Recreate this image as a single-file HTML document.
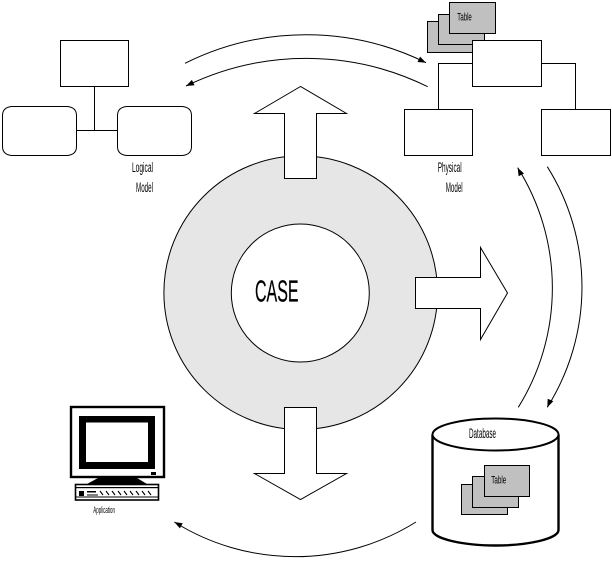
<!DOCTYPE html>
<html><head><meta charset="utf-8"><style>
html,body{margin:0;padding:0;background:#fff}
svg{display:block}
text{font-family:"Liberation Sans",sans-serif;fill:#000}
</style></head><body>
<svg width="612" height="570" viewBox="0 0 612 570" xmlns="http://www.w3.org/2000/svg">
<rect width="612" height="570" fill="#fff"/>
<g fill="none" stroke="#000" stroke-width="1">
<path d="M185 63.3A271 271 0 0 1 426 62.7"/>
<path d="M427.7 86.7A275 275 0 0 0 186 86"/>
<path d="M518.3 407.3A226 226 0 0 0 517.7 167.7"/>
<path d="M547.3 166.7A226 226 0 0 1 547.3 407.3"/>
<path d="M416 522A228 228 0 0 1 174.3 522"/>
</g>
<g fill="#000">
<polygon points="426,62.7 417.5,62 420.1,56.6"/>
<polygon points="186,86 194.5,85.3 191.9,79.9"/>
<polygon points="517.7,167.7 524,173.5 518.6,176.2"/>
<polygon points="547.3,407.3 553.3,401.2 547.7,398.8"/>
<polygon points="174.3,522 182.7,523.2 179.9,528.4"/>
</g>
<circle cx="300.7" cy="292.7" r="136.8" fill="#e6e6e6" stroke="#000" stroke-width="1"/>
<circle cx="300.3" cy="293" r="69" fill="#fff" stroke="#000" stroke-width="1"/>
<g fill="#fff" stroke="#000" stroke-width="1">
<polygon points="300.5,86.5 254.5,113.5 284.5,113.5 284.5,178.5 316.5,178.5 316.5,113.5 346.5,113.5"/>
<polygon points="415.5,277.5 480.5,277.5 480.5,247.5 507.5,293 480.5,339.5 480.5,308.5 415.5,308.5"/>
<polygon points="284.5,407.5 316.5,407.5 316.5,473.5 346.5,473.5 300.5,499.5 254.5,473.5 284.5,473.5"/>
</g>
<text x="255" y="301.7" font-size="30.5" textLength="43.5" lengthAdjust="spacingAndGlyphs" stroke="#000" stroke-width="0.25">CASE</text>

<g fill="#fff" stroke="#000" stroke-width="1">
<path d="M94.5 86V130M76.5 130.5H117.5" fill="none"/>
<rect x="60.5" y="40.5" width="68" height="46"/>
<path d="M11.5 106.5H67.5Q76.5 107.5 76.5 115.5V146.5Q76.5 154.5 67.5 155.5H11.5Q2.5 154.5 2.5 146.5V115.5Q2.5 107.5 11.5 106.5Z"/>
<path d="M126.5 106.5H182.5Q191.5 107.5 191.5 115.5V146.5Q191.5 154.5 182.5 155.5H126.5Q117.5 154.5 117.5 146.5V115.5Q117.5 107.5 126.5 106.5Z"/>
</g>
<text x="132" y="172" font-size="13.5" textLength="21" lengthAdjust="spacingAndGlyphs">Logical</text>
<text x="136" y="192" font-size="13.5" textLength="17" lengthAdjust="spacingAndGlyphs">Model</text>

<g fill="#c0c0c0" stroke="#000" stroke-width="1">
<rect x="427.5" y="21.5" width="46" height="31"/>
<rect x="438.5" y="14.5" width="46" height="30"/>
<rect x="449.5" y="2.5" width="46" height="31"/>
</g>
<text x="457.3" y="20.5" font-size="11" textLength="14.5" lengthAdjust="spacingAndGlyphs">Table</text>
<g fill="#fff" stroke="#000" stroke-width="1">
<path d="M438.5 109V63.5H575.5V109" fill="none"/>
<rect x="472.5" y="40.5" width="69" height="46"/>
<rect x="404.5" y="109.5" width="68" height="46"/>
<rect x="541.5" y="109.5" width="69" height="46"/>
</g>
<text x="437.7" y="172" font-size="13.5" textLength="24" lengthAdjust="spacingAndGlyphs">Physical</text>
<text x="445.7" y="192" font-size="13.5" textLength="17" lengthAdjust="spacingAndGlyphs">Model</text>

<path d="M432.5 434.5V530C432.5 539 464 545.5 495.5 545.5S558.5 539 558.5 530V434.5" fill="#fff" stroke="#000" stroke-width="2.4"/>
<ellipse cx="495.5" cy="434.5" rx="63" ry="16" fill="#fff" stroke="#000" stroke-width="2"/>
<text x="469" y="438" font-size="14" textLength="27" lengthAdjust="spacingAndGlyphs">Database</text>
<g fill="#c0c0c0" stroke="#000" stroke-width="1">
<rect x="461.5" y="484.5" width="46" height="30"/>
<rect x="472.5" y="476.5" width="46" height="31"/>
<rect x="484.5" y="465.5" width="45" height="31"/>
</g>
<text x="491.3" y="483.5" font-size="11" textLength="15" lengthAdjust="spacingAndGlyphs">Table</text>

<rect x="71" y="407" width="93" height="70" fill="#fff" stroke="#000" stroke-width="2.4"/>
<rect x="79" y="416" width="76" height="53" fill="#000"/>
<rect x="86" y="422.5" width="62" height="39.5" fill="#fff"/>
<rect x="151" y="472" width="5" height="3" fill="#000"/>
<polygon points="98,478 137,478 147,484 87,484" fill="#000"/>
<rect x="75.5" y="484.5" width="83" height="15.5" fill="#fff" stroke="#000" stroke-width="1.6"/>
<rect x="76" y="487" width="82" height="1.2" fill="#000"/>
<rect x="79" y="491" width="5" height="5" fill="#000"/>
<rect x="87" y="491" width="9" height="1.5" fill="#000"/>
<path d="M87 495H98M100 491l3 4M106 491l3 4M112 491l3 4M118 491l3 4M124 491l3 4M130 491l3 4M136 491l3 4M142 491l3 4M148 491l3 4" stroke="#000" stroke-width="1.1" fill="none"/>
<rect x="76" y="496.5" width="82" height="1" fill="#000"/>
<text x="93.3" y="513" font-size="9.5" textLength="21.7" lengthAdjust="spacingAndGlyphs">Application</text>
</svg>
</body></html>
